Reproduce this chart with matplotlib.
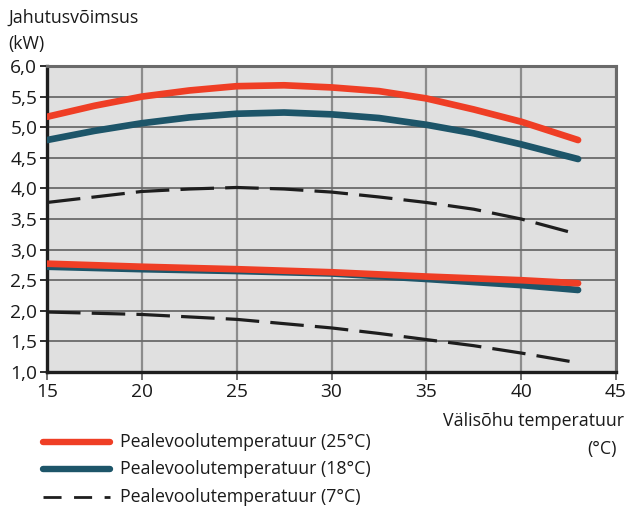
import matplotlib
matplotlib.use("Agg")
import matplotlib.pyplot as plt
from matplotlib.lines import Line2D

plt.rcParams['font.family'] = ['Open Sans', 'DejaVu Sans']

# Outdoor air temperature (°C)
temps = [15, 17.5, 20, 22.5, 25, 27.5, 30, 32.5, 35, 37.5, 40, 43]

# Cooling capacity (kW) - upper group
red_hi = [5.17, 5.35, 5.50, 5.60, 5.67, 5.685, 5.65, 5.59, 5.47, 5.29, 5.09, 4.79]
blue_hi = [4.79, 4.94, 5.065, 5.16, 5.22, 5.24, 5.21, 5.15, 5.04, 4.90, 4.72, 4.48]
dash_hi = [3.77, 3.86, 3.95, 3.99, 4.015, 3.99, 3.94, 3.86, 3.77, 3.66, 3.50, 3.25]

# Cooling capacity (kW) - lower group
red_lo = [2.77, 2.745, 2.72, 2.70, 2.68, 2.655, 2.63, 2.595, 2.56, 2.53, 2.50, 2.45]
blue_lo = [2.72, 2.70, 2.68, 2.665, 2.65, 2.63, 2.61, 2.565, 2.52, 2.47, 2.42, 2.34]
dash_lo = [1.98, 1.96, 1.94, 1.90, 1.86, 1.79, 1.72, 1.63, 1.53, 1.43, 1.31, 1.15]

x_ticks = [15, 20, 25, 30, 35, 40, 45]
y_ticks = [1.0, 1.5, 2.0, 2.5, 3.0, 3.5, 4.0, 4.5, 5.0, 5.5, 6.0]

legend_labels = ["Pealevoolutemperatuur (25°C)",
                 "Pealevoolutemperatuur (18°C)",
                 "Pealevoolutemperatuur (7°C)"]

RED = "#ef3e25"
BLUE = "#1d5569"
DARK = "#1e1e1e"
TXT = "#1a1a1a"
FS = 12.8

fig = plt.figure(figsize=(6.30, 5.08), dpi=100)
ax = fig.add_axes([47 / 630, 1 - 372 / 508, (616 - 47) / 630, (372 - 66) / 508])
ax.set_facecolor("#e0e0e0")

solid_kw = dict(lw=4.8, solid_capstyle="round", zorder=3)
dash_kw = dict(lw=2.3, color=DARK, dashes=(10.5, 3.5), dash_capstyle="butt", zorder=3)

ax.plot(temps, dash_hi, **dash_kw)
ax.plot(temps, dash_lo, **dash_kw)
ax.plot(temps, blue_hi, color=BLUE, **solid_kw)
ax.plot(temps, red_hi, color=RED, **solid_kw)
ax.plot(temps, blue_lo, color=BLUE, **solid_kw)
ax.plot(temps, red_lo, color=RED, **solid_kw)

ax.set_xlim(15, 45)
ax.set_ylim(1.0, 6.0)
ax.set_xticks(x_ticks)
ax.set_yticks(y_ticks)
ax.set_xticklabels([str(t) for t in x_ticks])
ax.set_yticklabels([f"{v:.1f}".replace(".", ",") for v in y_ticks])

ax.xaxis.grid(True, color="#8c8c8c", lw=1.6, zorder=1)
ax.yaxis.grid(True, color="#6a6a6a", lw=1.3, zorder=1)
ax.set_axisbelow(True)

for side in ("left", "bottom"):
    ax.spines[side].set_color(DARK)
    ax.spines[side].set_linewidth(2.4)
for side in ("top", "right"):
    ax.spines[side].set_color("#6a6a6a")
    ax.spines[side].set_linewidth(2.2)

ax.tick_params(axis="y", direction="out", length=5, width=1.3, color=DARK,
               labelsize=13.8, pad=2, labelcolor=TXT)
ax.tick_params(axis="x", direction="out", length=6, width=1.3, color="#666666",
               labelsize=13.8, pad=2, labelcolor=TXT)

# Axis titles
fig.text(8 / 630, 1 - 18 / 508, "Jahutusvõimsus", fontsize=FS, color=TXT,
         ha="left", va="center")
fig.text(8 / 630, 1 - 44 / 508, "(kW)", fontsize=FS, color=TXT,
         ha="left", va="center")
fig.text(624 / 630, 1 - 421 / 508, "Välisõhu temperatuur", fontsize=FS,
         color=TXT, ha="right", va="center")
fig.text(617 / 630, 1 - 449 / 508, "(°C)", fontsize=FS, color=TXT,
         ha="right", va="center")

# Legend
leg_rows = [(442, dict(color=RED, lw=4.6, solid_capstyle="round")),
            (469, dict(color=BLUE, lw=4.6, solid_capstyle="round")),
            (497, dict(color=DARK, lw=2.0, dashes=(6.5, 4.5), dash_capstyle="butt"))]
for (y, style), label in zip(leg_rows, legend_labels):
    yf = 1 - y / 508
    fig.add_artist(Line2D([43 / 630, 110 / 630], [yf, yf], transform=fig.transFigure, **style))
    fig.text(120 / 630, yf, label, fontsize=FS, color=TXT, ha="left", va="center")

fig.savefig("out.png", dpi=100)
